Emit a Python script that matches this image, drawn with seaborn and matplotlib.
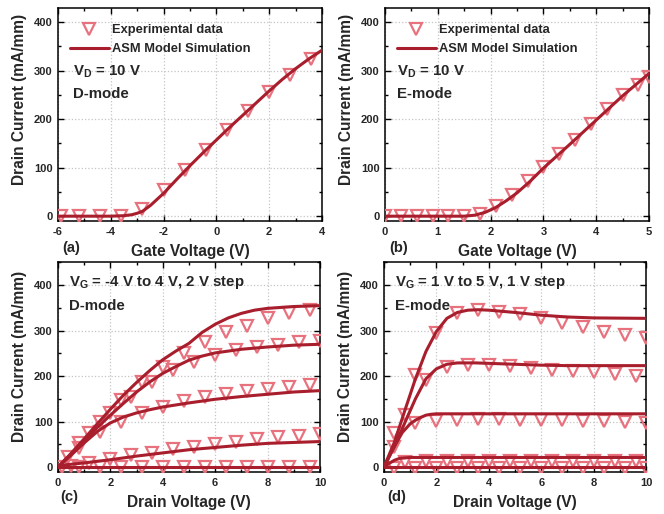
import matplotlib
matplotlib.use('Agg')
import matplotlib.pyplot as plt
import seaborn as sns
from matplotlib.ticker import MultipleLocator, AutoMinorLocator

# ---- data ----
# (a) transfer curve, D-mode, VD = 10 V
a_exp_vg = [-5.9, -5.2, -4.4, -3.6, -2.8, -2.0, -1.2, -0.4, 0.4, 1.2, 2.0, 2.8, 3.6]
a_exp_id = [0, 0, 0, 0, 15, 53, 95, 137, 178, 217, 255, 290, 323]
a_sim_vg = [-6, -5, -4, -3.5, -3.2, -3.0, -2.8, -2.5, -2.0, -1.5, -1.0, -0.5, 0, 0.5, 1.0, 1.5, 2.0, 2.5, 3.0, 3.5, 4.0]
a_sim_id = [0, 0, 0, 1, 3, 6, 10, 22, 47, 76, 104, 131, 157, 183, 208, 233, 258, 282, 304, 324, 342]

# (b) transfer curve, E-mode, VD = 10 V
b_exp_vg = [0, 0.3, 0.6, 0.9, 1.2, 1.5, 1.8, 2.1, 2.4, 2.7, 3.0, 3.3, 3.6, 3.9, 4.2, 4.5, 4.8, 5.0]
b_exp_id = [0, 0, 0, 0, 0, 0, 4, 21, 43, 72, 101, 129, 156, 189, 220, 249, 270, 287]
b_sim_vg = [0, 1.0, 1.5, 1.7, 1.9, 2.1, 2.3, 2.5, 2.75, 3.0, 3.5, 4.0, 4.5, 5.0]
b_sim_id = [0, 0, 0, 2, 8, 18, 32, 48, 72, 99, 148, 198, 248, 294]

# (c) output curves, D-mode, VG = -4, -2, 0, 2, 4 V
c_exp_vd = [
    [0.15, 0.8, 1.6, 2.4, 3.2, 4.0, 4.8, 5.6, 6.4, 7.2, 8.0, 8.8, 9.6],
    [0.5, 1.2, 2.0, 2.8, 3.6, 4.4, 5.2, 6.0, 6.8, 7.6, 8.4, 9.2, 10.0],
    [0.8, 1.6, 2.4, 3.2, 4.0, 4.8, 5.6, 6.4, 7.2, 8.0, 8.8, 9.6],
    [0.4, 1.2, 2.0, 2.8, 3.6, 4.4, 5.2, 6.0, 6.8, 7.6, 8.4, 9.2, 10.0],
    [0.8, 1.6, 2.4, 3.2, 4.0, 4.8, 5.6, 6.4, 7.2, 8.0, 8.8, 9.6],
]
c_exp_id = [
    [0, 0, 0, 0, 0, 0, 0, 0, 0, 0, 0, 0, 0],
    [2, 8, 17, 26, 31, 39, 45, 51, 56, 61, 65, 68, 72],
    [42, 78, 100, 118, 133, 146, 155, 161, 167, 172, 177, 181],
    [23, 74, 118, 155, 188, 214, 232, 247, 258, 265, 269, 274, 278],
    [52, 100, 148, 188, 221, 250, 276, 298, 311, 327, 338, 346],
]
c_sim_vd = [
    [0, 5, 10],
    [0, 0.5, 1, 2, 3, 4, 5, 6, 7, 8, 9, 10],
    [0, 0.5, 1, 1.5, 2, 2.5, 3, 3.5, 4, 5, 6, 7, 8, 9, 10],
    [0, 0.5, 1, 1.5, 2, 2.5, 3, 3.5, 4, 4.5, 5, 5.5, 6, 7, 8, 9, 10],
    [0, 0.5, 1, 1.5, 2, 2.5, 3, 3.5, 4, 4.5, 5, 5.5, 6, 6.5, 7, 7.5, 8, 9, 10],
]
c_sim_id = [
    [0, 0, 0],
    [3, 6, 9, 16, 24, 31, 38, 43, 48, 52, 54, 56],
    [0, 26, 53, 78, 97, 110, 119, 126, 132, 141, 149, 155, 160, 165, 168],
    [0, 28, 58, 87, 114, 140, 165, 187, 206, 221, 235, 244, 251, 259, 264, 268, 270],
    [0, 30, 62, 95, 127, 158, 186, 212, 236, 255, 272, 296, 314, 328, 338, 345, 349, 353, 355],
]

# (d) output curves, E-mode, VG = 1 ... 5 V
d_exp_vd = [
    [0.4, 1.2, 2.0, 2.8, 3.6, 4.4, 5.2, 6.0, 6.8, 7.6, 8.4, 9.2, 10.0],
    [0.8, 1.6, 2.4, 3.2, 4.0, 4.8, 5.6, 6.4, 7.2, 8.0, 8.8, 9.6],
    [0.4, 1.2, 2.0, 2.8, 3.6, 4.4, 5.2, 6.0, 6.8, 7.6, 8.4, 9.2, 10.0],
    [0.8, 1.6, 2.4, 3.2, 4.0, 4.8, 5.6, 6.4, 7.2, 8.0, 8.8, 9.6],
    [0.4, 1.2, 2.0, 2.8, 3.6, 4.4, 5.2, 6.0, 6.8, 7.6, 8.4, 9.2, 10.0],
]
d_exp_id = [
    [-2, -2, -2, -2, -2, -2, -2, -2, -2, -2, -2, -2, -2],
    [12, 13, 13, 13, 13, 13, 13, 13, 13, 13, 13, 13],
    [45, 96, 102, 104, 105, 105, 104, 103, 103, 102, 101, 99, 97],
    [115, 192, 221, 225, 225, 223, 218, 214, 211, 208, 204, 200],
    [74, 203, 294, 338, 346, 342, 337, 327, 317, 308, 297, 290, 283],
]
d_sim_vd = [
    [0, 5, 10],
    [0, 0.2, 0.4, 0.6, 0.8, 1.0, 2, 10],
    [0, 0.3, 0.7, 1.0, 1.2, 1.4, 1.6, 1.8, 2.0, 3, 10],
    [0, 0.4, 0.8, 1.2, 1.6, 2.0, 2.4, 2.8, 3.5, 4, 5, 6, 7, 8, 10],
    [0, 0.4, 0.8, 1.2, 1.6, 2.0, 2.4, 2.8, 3.2, 3.6, 4, 5, 6, 7, 8, 10],
]
d_sim_id = [
    [0, 0, 0],
    [0, 8, 15, 19, 20, 21, 21, 21],
    [0, 35, 76, 95, 103, 109, 114, 116, 117, 117, 117],
    [0, 45, 98, 150, 194, 216, 226, 229, 229, 228, 226, 224, 223, 223, 223],
    [0, 55, 125, 194, 254, 298, 327, 340, 345, 346, 345, 340, 334, 330, 328, 327],
]

LINE_C = '#A81E2C'
MARK_C = '#E8717E'

sns.set_theme(style='ticks')
plt.rcParams['font.family'] = ['Liberation Sans', 'DejaVu Sans']
plt.rcParams['font.weight'] = 'bold'
plt.rcParams['axes.labelweight'] = 'bold'
plt.rcParams['axes.unicode_minus'] = False
plt.rcParams['mathtext.fontset'] = 'custom'
plt.rcParams['mathtext.rm'] = 'Liberation Sans:bold'
plt.rcParams['mathtext.bf'] = 'Liberation Sans:bold'
plt.rcParams['mathtext.it'] = 'Liberation Sans:bold'


def draw_exp(ax, x, y, label=None):
    sns.lineplot(x=x, y=y, ax=ax, marker='v', linestyle='', ms=9, mfc='none',
                 mec=MARK_C, mew=1.6, estimator=None, sort=False, label=label,
                 legend=False, zorder=3)


def draw_sim(ax, x, y, label=None):
    sns.lineplot(x=x, y=y, ax=ax, color=LINE_C, lw=2.2, estimator=None,
                 sort=False, label=label, legend=False, zorder=4)


def style_ax(ax, xlim, ylim, xstep, xlabel, ylab_y):
    ax.set_xlim(*xlim)
    ax.set_ylim(*ylim)
    ax.xaxis.set_major_locator(MultipleLocator(xstep))
    ax.yaxis.set_major_locator(MultipleLocator(100))
    ax.xaxis.set_minor_locator(AutoMinorLocator(2))
    ax.yaxis.set_minor_locator(AutoMinorLocator(2))
    ax.tick_params(which='both', direction='in', top=True, right=True,
                   color='black', width=1.0)
    ax.tick_params(which='major', length=4, labelsize=8, pad=4)
    ax.tick_params(which='minor', length=2.2)
    ax.grid(True, which='major', linestyle=':', color='#c4c4c4', lw=0.9)
    for s in ax.spines.values():
        s.set_color('black')
        s.set_linewidth(1.1)
    ax.set_xlabel(xlabel, fontsize=11.2, labelpad=5)
    ax.set_ylabel('Drain Current (mA/mm)', fontsize=11.2)
    ax.yaxis.set_label_coords(-0.118, ylab_y)
    for lab in ax.get_xticklabels() + ax.get_yticklabels():
        lab.set_fontweight('bold')


def add_legend(ax):
    ax.legend(loc='upper left', bbox_to_anchor=(0.045, 0.925), frameon=False,
              fontsize=9.3, handlelength=3.0, handletextpad=0.3,
              labelspacing=0.55, borderpad=0, borderaxespad=0)


fig = plt.figure(figsize=(6.64, 5.14), dpi=100)
ax_a = fig.add_axes([0.0873, 0.570, 0.3976, 0.4144])
ax_b = fig.add_axes([0.5798, 0.570, 0.3976, 0.4144])
ax_c = fig.add_axes([0.0873, 0.0817, 0.3946, 0.4086])
ax_d = fig.add_axes([0.5783, 0.0817, 0.3946, 0.4086])

# (a)
draw_exp(ax_a, a_exp_vg, a_exp_id, 'Experimental data')
draw_sim(ax_a, a_sim_vg, a_sim_id, 'ASM Model Simulation')
style_ax(ax_a, (-6, 4), (-10, 429), 2, 'Gate Voltage (V)', 0.57)
add_legend(ax_a)
ax_a.text(0.057, 0.700, r'$\mathbf{V_D}$ = 10 V', transform=ax_a.transAxes,
          fontsize=10.8, va='center', ha='left')
ax_a.text(0.057, 0.598, 'D-mode', transform=ax_a.transAxes,
          fontsize=10.8, va='center', ha='left')

# (b)
draw_exp(ax_b, b_exp_vg, b_exp_id, 'Experimental data')
draw_sim(ax_b, b_sim_vg, b_sim_id, 'ASM Model Simulation')
style_ax(ax_b, (0, 5), (-10, 429), 1, 'Gate Voltage (V)', 0.57)
add_legend(ax_b)
ax_b.text(0.045, 0.700, r'$\mathbf{V_D}$ = 10 V', transform=ax_b.transAxes,
          fontsize=10.8, va='center', ha='left')
ax_b.text(0.045, 0.598, 'E-mode', transform=ax_b.transAxes,
          fontsize=10.8, va='center', ha='left')

# (c)
for x, y in zip(c_exp_vd, c_exp_id):
    draw_exp(ax_c, x, y)
for x, y in zip(c_sim_vd, c_sim_id):
    draw_sim(ax_c, x, y)
style_ax(ax_c, (0, 10), (-11, 451), 2, 'Drain Voltage (V)', 0.55)
ax_c.text(0.044, 0.900, r'$\mathbf{V_G}$ = -4 V to 4 V, 2 V step',
          transform=ax_c.transAxes, fontsize=10.8, va='center', ha='left')
ax_c.text(0.044, 0.790, 'D-mode', transform=ax_c.transAxes,
          fontsize=10.8, va='center', ha='left')

# (d)
for x, y in zip(d_exp_vd, d_exp_id):
    draw_exp(ax_d, x, y)
for x, y in zip(d_sim_vd, d_sim_id):
    draw_sim(ax_d, x, y)
style_ax(ax_d, (0, 10), (-11, 451), 2, 'Drain Voltage (V)', 0.55)
ax_d.text(0.042, 0.900, r'$\mathbf{V_G}$ = 1 V to 5 V, 1 V step',
          transform=ax_d.transAxes, fontsize=10.8, va='center', ha='left')
ax_d.text(0.042, 0.790, 'E-mode', transform=ax_d.transAxes,
          fontsize=10.8, va='center', ha='left')

# panel tags
fig.text(0.093, 0.5175, '(a)', fontsize=10.6, va='center', ha='left')
fig.text(0.586, 0.5175, '(b)', fontsize=10.6, va='center', ha='left')
fig.text(0.090, 0.033, '(c)', fontsize=10.6, va='center', ha='left')
fig.text(0.583, 0.033, '(d)', fontsize=10.6, va='center', ha='left')

fig.savefig('out.png', dpi=100)
